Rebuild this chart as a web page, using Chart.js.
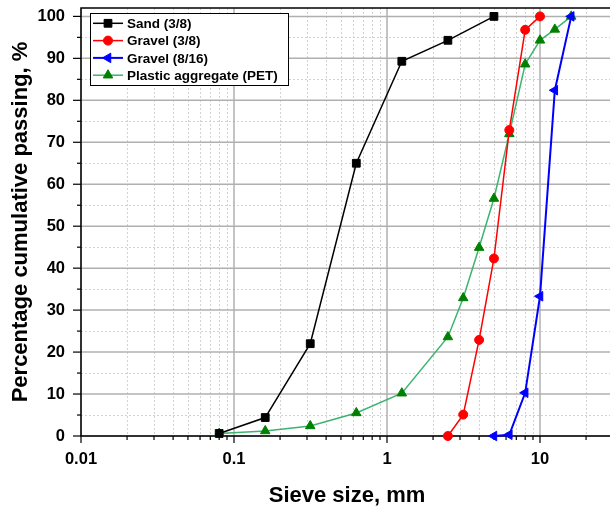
<!DOCTYPE html>
<html>
<head>
<meta charset="utf-8">
<script src="https://cdn.jsdelivr.net/npm/chart.js@4.4.1/dist/chart.umd.min.js"></script>
<style>
  html, body { margin: 0; padding: 0; background: #fff; overflow: hidden; }
  #gradation { display: block; }
</style>
</head>
<body>
<canvas id="gradation" width="614" height="508"></canvas>
<script>
// sieve sizes (mm) and cumulative passing (%) per material
const sandSize = [0.08, 0.16, 0.315, 0.63, 1.25, 2.5, 5];
const sandPass = [0.6, 4.4, 22, 65, 89.3, 94.3, 100];

const gravel38Size = [2.5, 3.15, 4, 5, 6.3, 8, 10];
const gravel38Pass = [0, 5.1, 22.9, 42.3, 72.9, 96.8, 100];

const gravel816Size = [5, 6.3, 8, 10, 12.5, 16];
const gravel816Pass = [0, 0.3, 10.3, 33.3, 82.4, 100];

const petSize = [0.08, 0.16, 0.315, 0.63, 1.25, 2.5, 3.15, 4, 5, 6.3, 8, 10, 12.5, 16];
const petPass = [0.6, 1.2, 2.4, 5.5, 10.2, 23.6, 32.9, 44.9, 56.6, 72, 88.6, 94.3, 96.9, 100];

const seriesNames = ['Sand (3/8)', 'Gravel (3/8)', 'Gravel (8/16)', 'Plastic aggregate (PET)'];

const xTickLabels = [0.01, 0.1, 1, 10];
const yTickLabels = [0, 10, 20, 30, 40, 50, 60, 70, 80, 90, 100];

const X_MIN = 0.01, X_MAX = 30;
const Y_MIN = 0, Y_MAX = 102;
const FONT = '"Liberation Sans", Arial, sans-serif';

function toPoints(xs, ys) {
  return xs.map((v, i) => ({ x: v, y: ys[i] }));
}

function isDecade(v) {
  const l = Math.log10(v);
  return Math.abs(l - Math.round(l)) < 1e-6;
}

// grid, axes, tick marks, legend box and axis titles
const axesFrame = {
  id: 'axesFrame',
  beforeDatasetsDraw(chart) {
    const { ctx, chartArea: a, scales: { x, y } } = chart;
    const seg = (x1, y1, x2, y2) => {
      ctx.beginPath();
      ctx.moveTo(x1, y1);
      ctx.lineTo(x2, y2);
      ctx.stroke();
    };
    const xMinor = [], xMajor = [];
    xTickLabels.forEach(d => {
      for (let m = 1; m <= 9; m++) {
        const v = d * m;
        if (v > X_MAX + 1e-9) break;
        (m === 1 ? xMajor : xMinor).push(v);
      }
    });
    const yMinor = yTickLabels.slice(0, -1).map(v => v + 5);

    ctx.save();
    // dotted minor grid
    ctx.lineWidth = 1;
    ctx.strokeStyle = '#d2d2d2';
    ctx.setLineDash([2, 2]);
    xMinor.forEach(v => {
      const px = Math.round(x.getPixelForValue(v)) + 0.5;
      seg(px, a.top, px, a.bottom);
    });
    yMinor.forEach(v => {
      const py = Math.round(y.getPixelForValue(v)) + 0.5;
      seg(a.left, py, a.right, py);
    });
    // solid major grid
    ctx.setLineDash([]);
    ctx.lineWidth = 1.5;
    ctx.strokeStyle = '#b0b0b0';
    xMajor.forEach(v => {
      const px = x.getPixelForValue(v);
      seg(px, a.top, px, a.bottom);
    });
    yTickLabels.forEach(v => {
      const py = y.getPixelForValue(v);
      seg(a.left, py, a.right, py);
    });

    // frame and tick marks
    ctx.strokeStyle = '#000';
    ctx.lineWidth = 1.5;
    ctx.strokeRect(a.left, a.top, a.right - a.left, a.bottom - a.top);
    ctx.lineWidth = 1.2;
    xMajor.forEach(v => {
      const px = x.getPixelForValue(v);
      seg(px, a.bottom, px, a.bottom + 7);
    });
    xMinor.forEach(v => {
      const px = x.getPixelForValue(v);
      seg(px, a.bottom, px, a.bottom + 4);
    });
    yTickLabels.forEach(v => {
      const py = y.getPixelForValue(v);
      seg(a.left - 8, py, a.left, py);
    });
    yMinor.forEach(v => {
      const py = y.getPixelForValue(v);
      seg(a.left - 4, py, a.left, py);
    });
    ctx.restore();
  },
  afterDraw(chart) {
    const { ctx, chartArea: a } = chart;
    ctx.save();

    // axis titles
    ctx.fillStyle = '#000';
    ctx.font = 'bold 22px ' + FONT;
    ctx.textAlign = 'center';
    ctx.textBaseline = 'alphabetic';
    ctx.fillText('Sieve size, mm', 347, 502);
    ctx.translate(27, (a.top + a.bottom) / 2);
    ctx.rotate(-Math.PI / 2);
    ctx.fillText('Percentage cumulative passing, %', 0, 0);
    ctx.setTransform(1, 0, 0, 1, 0, 0);

    // legend
    const bx = 90.5, by = 13.5, bw = 198, bh = 72;
    ctx.fillStyle = '#fff';
    ctx.fillRect(bx, by, bw, bh);
    ctx.strokeStyle = '#000';
    ctx.lineWidth = 1;
    ctx.strokeRect(bx, by, bw, bh);
    ctx.font = 'bold 13.5px ' + FONT;
    ctx.textAlign = 'left';
    ctx.textBaseline = 'middle';
    chart.data.datasets.forEach((ds, i) => {
      const ry = 23.3 + i * 17.3;
      ctx.strokeStyle = ds.borderColor;
      ctx.lineWidth = ds.borderWidth;
      ctx.beginPath();
      ctx.moveTo(93, ry);
      ctx.lineTo(123, ry);
      ctx.stroke();
      ctx.fillStyle = ds.pointBackgroundColor;
      ctx.strokeStyle = ds.pointBorderColor;
      ctx.lineWidth = 1;
      Chart.helpers.drawPoint(ctx, {
        pointStyle: ds.pointStyle,
        rotation: ds.pointRotation || 0,
        radius: ds.pointRadius,
        borderWidth: 1
      }, 108, ry);
      ctx.fillStyle = '#000';
      ctx.fillText(ds.label, 127, ry + 1);
    });
    ctx.restore();
  }
};

function series(label, xs, ys, line, marker, style, radius, rotation, width) {
  return {
    label: label,
    data: toPoints(xs, ys),
    borderColor: line,
    backgroundColor: marker,
    pointBackgroundColor: marker,
    pointBorderColor: marker,
    pointStyle: style,
    pointRadius: radius,
    pointRotation: rotation,
    pointBorderWidth: 1,
    borderWidth: width,
    tension: 0,
    clip: false
  };
}

new Chart(document.getElementById('gradation'), {
  type: 'line',
  data: {
    datasets: [
      series(seriesNames[0], sandSize, sandPass, '#000000', '#000000', 'rect', 5.5, 0, 1.5),
      series(seriesNames[1], gravel38Size, gravel38Pass, '#ff0000', '#ff0000', 'circle', 4.5, 0, 1.5),
      series(seriesNames[2], gravel816Size, gravel816Pass, '#0000ff', '#0000ff', 'triangle', 5.5, 270, 2),
      series(seriesNames[3], petSize, petPass, '#3cb371', '#008000', 'triangle', 5.5, 0, 1.5)
    ]
  },
  options: {
    responsive: false,
    animation: false,
    events: [],
    layout: { autoPadding: false, padding: { top: 8, right: 1, left: 0, bottom: 0 } },
    plugins: { legend: { display: false }, tooltip: { enabled: false } },
    scales: {
      x: {
        type: 'logarithmic',
        min: X_MIN,
        max: X_MAX,
        grid: { display: false, drawTicks: false },
        border: { display: false },
        afterFit: s => {
          s.height = 72;
          s.paddingLeft = 0;
          s.paddingRight = 0;
        },
        afterBuildTicks: s => { s.ticks = xTickLabels.map(v => ({ value: v })); },
        ticks: {
          autoSkip: false,
          maxRotation: 0,
          minRotation: 0,
          padding: 14,
          color: '#000',
          font: { family: FONT, size: 16.5, weight: 'bold' },
          callback: v => (isDecade(v) ? String(v) : '')
        }
      },
      y: {
        type: 'linear',
        min: Y_MIN,
        max: Y_MAX,
        grid: { display: false, drawTicks: false },
        border: { display: false },
        afterFit: s => {
          s.width = 81;
          s.paddingTop = 0;
          s.paddingBottom = 0;
        },
        afterBuildTicks: s => { s.ticks = yTickLabels.map(v => ({ value: v })); },
        ticks: {
          padding: 16,
          color: '#000',
          font: { family: FONT, size: 16.5, weight: 'bold' }
        }
      }
    }
  },
  plugins: [axesFrame]
});
</script>
</body>
</html>
